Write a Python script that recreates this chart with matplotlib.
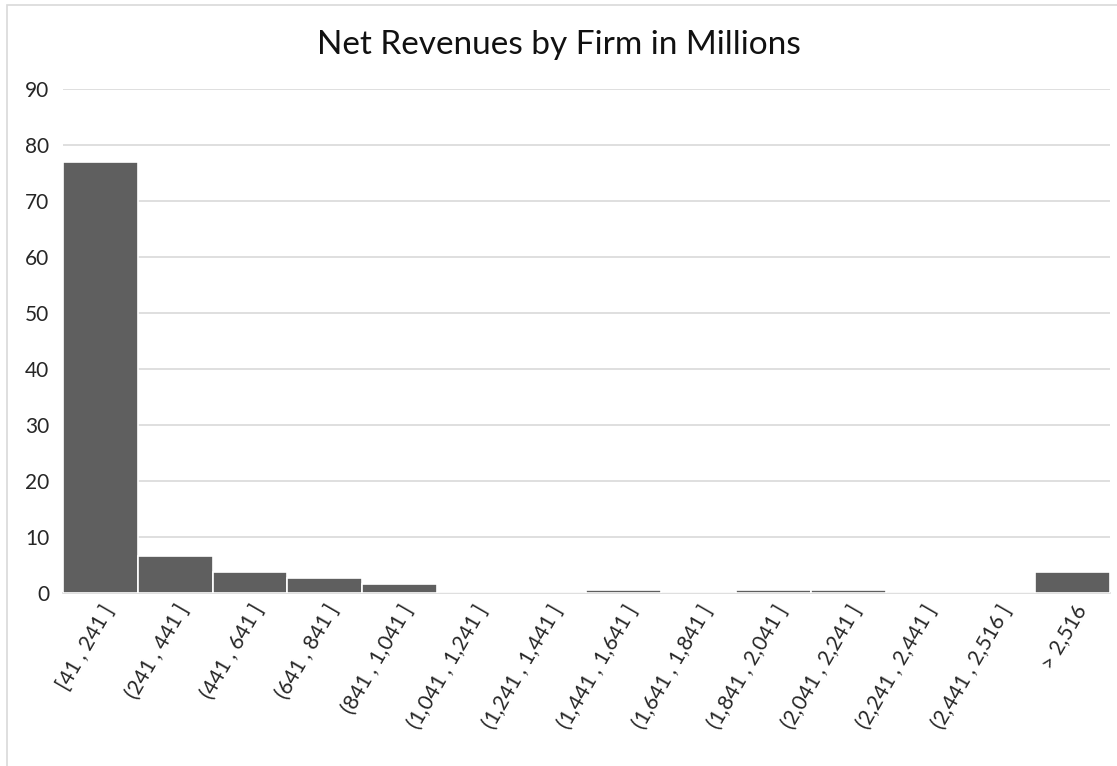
import matplotlib
matplotlib.use("Agg")
import matplotlib.pyplot as plt
from matplotlib.patches import Rectangle

bins = ["[41 , 241 ]", "(241 , 441 ]", "(441 , 641 ]", "(641 , 841 ]", "(841 , 1,041 ]",
        "(1,041 , 1,241 ]", "(1,241 , 1,441 ]", "(1,441 , 1,641 ]", "(1,641 , 1,841 ]",
        "(1,841 , 2,041 ]", "(2,041 , 2,241 ]", "(2,241 , 2,441 ]", "(2,441 , 2,516 ]", "> 2,516"]
values = [77, 6.6, 3.7, 2.7, 1.6, 0, 0, 0.5, 0, 0.5, 0.5, 0, 0, 3.7]
yticks = [0, 10, 20, 30, 40, 50, 60, 70, 80, 90]

plt.rcParams['font.family'] = ['Lato', 'DejaVu Sans']

W, H = 1117, 766
fig = plt.figure(figsize=(W/100, H/100), dpi=100)
ax = fig.add_axes([63/W, 1-593/H, (1110-63)/W, (593-89)/H])

x = list(range(len(bins)))
ax.bar(x, values, width=1.0, color='#5f5f5f', edgecolor='white', linewidth=1.2, zorder=3)
ax.set_xlim(-0.5, len(bins)-0.5)
ax.set_ylim(0, 90)
ax.set_yticks(yticks)
ax.set_yticklabels([str(t) for t in yticks], fontsize=15, color='#262626')
ax.set_xticks(x)
ax.set_xticklabels(bins, rotation=60, ha='right', rotation_mode='anchor', fontsize=15, color='#262626')
ax.tick_params(length=0, pad=10)
ax.tick_params(axis='x', pad=6)
ax.grid(axis='y', color='#d9d9d9', linewidth=1.2, zorder=0)
for s in ['top', 'right', 'left']:
    ax.spines[s].set_visible(False)
ax.spines['bottom'].set_color('#d9d9d9')
ax.spines['bottom'].set_linewidth(1.2)

fig.text(0.5, 1-45/H, "Net Revenues by Firm in Millions", ha='center', va='center', fontsize=24, color='#111111')

fig.patches.append(Rectangle((7/W, -0.01), 1.02, 1-5/H+0.01, transform=fig.transFigure,
                             fill=False, edgecolor='#d9d9d9', linewidth=1.2))

fig.savefig("out.png", dpi=100)
